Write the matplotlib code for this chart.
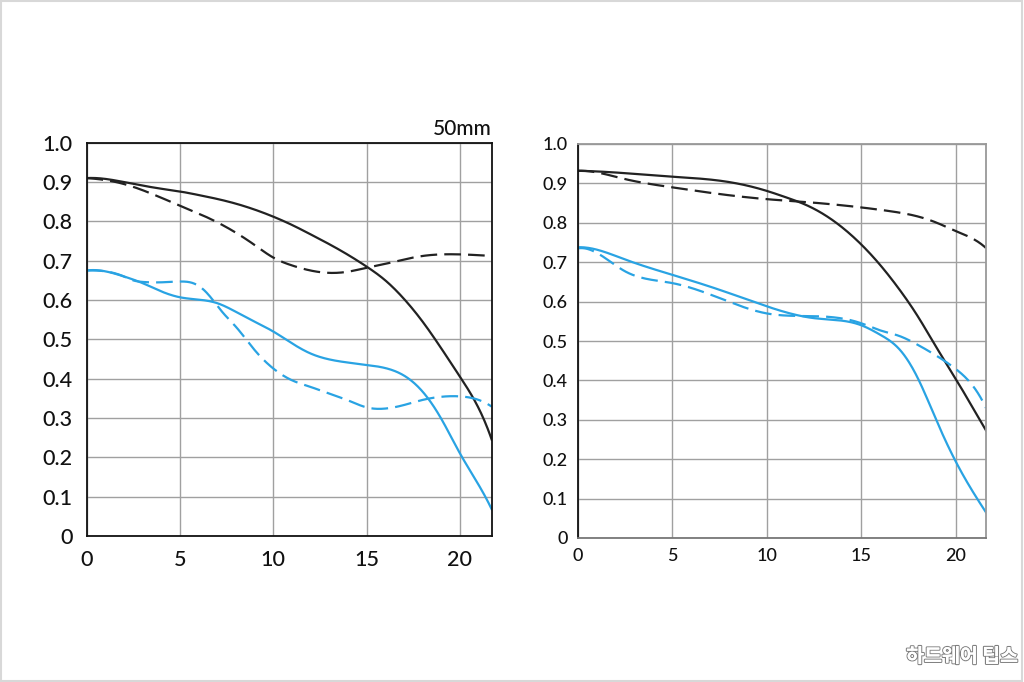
import matplotlib
matplotlib.use("Agg")
import matplotlib.pyplot as plt
import matplotlib.patheffects as pe
from matplotlib.patches import Rectangle
import numpy as np

plt.rcParams['font.family'] = ['Lato', 'DejaVu Sans']

# ---------------- data ----------------
# Left chart (50mm)
L_black_solid_x = [0, 1, 2, 3, 4, 5, 6, 7, 8, 9, 10, 11, 12, 13, 14, 15, 16, 17, 18, 19, 20, 21, 21.7]
L_black_solid_y = [0.91, 0.908, 0.90, 0.891, 0.883, 0.876, 0.867, 0.857, 0.845, 0.83, 0.812, 0.791, 0.767,
                   0.742, 0.715, 0.685, 0.65, 0.603, 0.545, 0.477, 0.405, 0.325, 0.245]
L_black_dash_x = [0, 1, 2, 3.5, 5, 6, 7.5, 9, 10, 11, 12, 13, 14, 15, 16, 17, 18, 19, 20, 21, 21.7]
L_black_dash_y = [0.91, 0.905, 0.895, 0.87, 0.84, 0.82, 0.785, 0.74, 0.708, 0.688, 0.675, 0.669, 0.672,
                  0.682, 0.692, 0.703, 0.712, 0.716, 0.716, 0.714, 0.712]
L_blue_solid_x = [0, 1, 2, 3, 4, 5, 6, 7, 8, 9, 10, 11, 12, 13, 14, 15, 16, 17, 18, 19, 20, 21, 21.7]
L_blue_solid_y = [0.675, 0.673, 0.66, 0.643, 0.622, 0.607, 0.601, 0.592, 0.57, 0.545, 0.52, 0.49, 0.464,
                  0.449, 0.441, 0.435, 0.427, 0.408, 0.367, 0.298, 0.21, 0.13, 0.068]
L_blue_dash_x = [0, 1, 2, 2.5, 3, 4, 5, 5.7, 6.3, 6.8, 7.3, 8, 9, 10, 11, 12, 13, 14, 15, 16, 17, 18, 19, 20, 21, 21.7]
L_blue_dash_y = [0.675, 0.673, 0.66, 0.65, 0.646, 0.645, 0.647, 0.643, 0.625, 0.598, 0.568, 0.532, 0.473,
                 0.426, 0.396, 0.379, 0.362, 0.345, 0.327, 0.324, 0.333, 0.346, 0.354, 0.355, 0.346, 0.329]

# Right chart
R_black_solid_x = [0, 2.5, 5, 7.5, 9, 10, 11, 12, 13, 14, 15, 16, 17, 18, 19, 20, 21, 21.6]
R_black_solid_y = [0.932, 0.926, 0.917, 0.907, 0.894, 0.881, 0.865, 0.847, 0.822, 0.788, 0.745, 0.693,
                   0.632, 0.562, 0.482, 0.404, 0.322, 0.273]
R_black_dash_x = [0, 1, 2.5, 5, 7.5, 10, 12.5, 15, 16, 17, 18, 19, 20, 21, 21.6]
R_black_dash_y = [0.932, 0.928, 0.911, 0.89, 0.873, 0.86, 0.851, 0.839, 0.833, 0.826, 0.816, 0.80,
                  0.779, 0.757, 0.736]
R_blue_solid_x = [0, 1, 2.5, 5, 7.5, 10, 12.5, 15, 16, 17, 18, 19, 20, 21, 21.6]
R_blue_solid_y = [0.738, 0.732, 0.707, 0.668, 0.63, 0.588, 0.558, 0.54, 0.516, 0.48, 0.405, 0.296,
                  0.194, 0.11, 0.065]
R_blue_dash_x = [0, 1, 2.5, 5, 7.5, 10, 12.5, 15, 16, 17, 18, 19, 20, 21, 21.6]
R_blue_dash_y = [0.735, 0.724, 0.677, 0.647, 0.609, 0.57, 0.563, 0.545, 0.527, 0.513, 0.49, 0.462,
                 0.429, 0.38, 0.33]

x_ticks = [0, 5, 10, 15, 20]
x_tick_labels = ['0', '5', '10', '15', '20']
y_ticks = [0, 0.1, 0.2, 0.3, 0.4, 0.5, 0.6, 0.7, 0.8, 0.9, 1.0]
y_tick_labels = ['0', '0.1', '0.2', '0.3', '0.4', '0.5', '0.6', '0.7', '0.8', '0.9', '1.0']
left_title = '50mm'
watermark = '하드웨어 팁스'

BLUE = '#29a3e3'
BLACK = '#222222'


def smooth(x, y, n=500):
    """Cubic spline (not-a-knot ends) through the read points."""
    x = np.asarray(x, float)
    y = np.asarray(y, float)
    k = len(x)
    h = np.diff(x)
    A = np.zeros((k, k))
    b = np.zeros(k)
    A[0, 0] = -h[1]
    A[0, 1] = h[0] + h[1]
    A[0, 2] = -h[0]
    A[-1, -3] = -h[-1]
    A[-1, -2] = h[-1] + h[-2]
    A[-1, -1] = -h[-2]
    for i in range(1, k - 1):
        A[i, i - 1] = h[i - 1]
        A[i, i] = 2 * (h[i - 1] + h[i])
        A[i, i + 1] = h[i]
        b[i] = 3 * ((y[i + 1] - y[i]) / h[i] - (y[i] - y[i - 1]) / h[i - 1])
    c = np.linalg.solve(A, b)
    bb = (y[1:] - y[:-1]) / h - h * (2 * c[:-1] + c[1:]) / 3
    d = (c[1:] - c[:-1]) / (3 * h)
    xs = np.linspace(x[0], x[-1], n)
    idx = np.clip(np.searchsorted(x, xs) - 1, 0, k - 2)
    t = xs - x[idx]
    ys = y[idx] + bb[idx] * t + c[idx] * t**2 + d[idx] * t**3
    return xs, ys


fig = plt.figure(figsize=(10.24, 6.82), dpi=100)

# outer light frame
fig.patches.append(Rectangle((0.001, 0.001), 0.997, 0.997, transform=fig.transFigure,
                             fill=False, edgecolor='#d8d8d8', linewidth=1.5))

axL = fig.add_axes([86.5 / 1024, (682 - 536) / 682, (491.7 - 86.5) / 1024, (536 - 142.7) / 682])
axR = fig.add_axes([577.7 / 1024, (682 - 538) / 682, (986 - 577.7) / 1024, (538 - 144) / 682])


def style(ax, xmax, fs, pad_x, pad_y, strong_frame):
    ax.set_xlim(0, xmax)
    ax.set_ylim(0, 1.0)
    ax.set_xticks(x_ticks)
    ax.set_xticklabels(x_tick_labels)
    ax.set_yticks(y_ticks)
    ax.set_yticklabels(y_tick_labels)
    ax.tick_params(axis='both', length=0, labelsize=fs, colors='#111111')
    ax.tick_params(axis='x', pad=pad_x)
    ax.tick_params(axis='y', pad=pad_y)
    for lab in ax.get_xticklabels() + ax.get_yticklabels():
        lab.set_fontweight('medium')
    ax.grid(True, color='#a0a0a0', linewidth=1.0)
    ax.set_axisbelow(True)
    for s in ax.spines.values():
        s.set_linewidth(1.3)
    if strong_frame:
        for s in ax.spines.values():
            s.set_color('#111111')
    else:
        ax.spines['left'].set_color('#111111')
        ax.spines['bottom'].set_color('#777777')
        ax.spines['top'].set_color('#999999')
        ax.spines['right'].set_color('#999999')


style(axL, 21.7, 15.5, 10, 10, True)
style(axR, 21.6, 13, 7, 7, False)

lw = 1.6
dash = (0, (7.5, 3.2))

# left chart curves
axL.plot(*smooth(L_black_solid_x, L_black_solid_y), color=BLACK, lw=lw)
axL.plot(*smooth(L_black_dash_x, L_black_dash_y), color=BLACK, lw=lw, linestyle=dash)
axL.plot(*smooth(L_blue_solid_x, L_blue_solid_y), color=BLUE, lw=lw)
axL.plot(*smooth(L_blue_dash_x, L_blue_dash_y), color=BLUE, lw=lw, linestyle=dash)

# right chart curves
axR.plot(*smooth(R_black_solid_x, R_black_solid_y), color=BLACK, lw=lw)
axR.plot(*smooth(R_black_dash_x, R_black_dash_y), color=BLACK, lw=lw, linestyle=dash)
axR.plot(*smooth(R_blue_solid_x, R_blue_solid_y), color=BLUE, lw=lw)
axR.plot(*smooth(R_blue_dash_x, R_blue_dash_y), color=BLUE, lw=lw, linestyle=dash)

axL.text(1.0, 1.01, left_title, transform=axL.transAxes, ha='right', va='bottom',
         fontsize=15, color='#111111', fontweight='medium')

fig.text(0.994, 0.023, watermark, ha='right', va='bottom', fontsize=14, color='white',
         family=['Noto Sans CJK KR', 'DejaVu Sans'], fontweight='bold',
         path_effects=[pe.withStroke(linewidth=1.6, foreground='#808080'),
                       pe.Normal()])

fig.savefig('out.png', dpi=100, facecolor='white')
